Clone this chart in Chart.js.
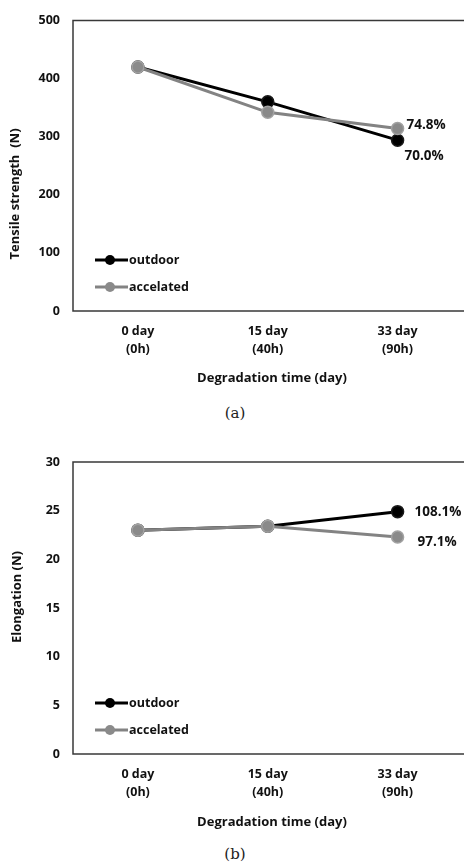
<!DOCTYPE html>
<html><head><meta charset="utf-8">
<script src="https://cdn.jsdelivr.net/npm/chart.js@4/dist/chart.umd.min.js"></script>
<style>
html,body{margin:0;padding:0;background:#fff;overflow:hidden;width:464px;height:864px;position:relative;}
.wrap{position:absolute;left:0;width:470px;}
.cap{position:absolute;font-family:"DejaVu Serif",serif;font-size:15px;color:#222;transform:translateX(-50%);line-height:18px;}
</style></head><body>
<div class="wrap" style="top:0;height:400px"><canvas id="c1" width="470" height="400"></canvas></div>
<div class="cap" style="left:235px;top:404px">(a)</div>
<div class="wrap" style="top:430px;height:410px"><canvas id="c2" width="470" height="410"></canvas></div>
<div class="cap" style="left:235px;top:845px">(b)</div>
<script>
// ---- data ----
const categories = [["0 day","(0h)"],["15 day","(40h)"],["33 day","(90h)"]];
const seriesNames = ["outdoor","accelated"];
const tensileOutdoor = [420, 360, 294];
const tensileAccel = [420, 342, 314];
const tensileTicks = [0, 100, 200, 300, 400, 500];
const tensileRetention = ["70.0%", "74.8%"]; // outdoor, accelated
const elongOutdoor = [23.0, 23.4, 24.9];
const elongAccel = [23.0, 23.4, 22.3];
const elongTicks = [0, 5, 10, 15, 20, 25, 30];
const elongRetention = ["108.1%", "97.1%"]; // outdoor, accelated
const xTitle = "Degradation time (day)";

const FONT = "'Open Sans', 'Noto Sans', sans-serif";

function makeChart(canvasId, opt) {
  const deco = {
    id: 'deco',
    afterDatasetsDraw(chart) {
      const ctx = chart.ctx, a = chart.chartArea;
      ctx.save();
      // frame
      ctx.strokeStyle = '#383838'; ctx.lineWidth = 1.5;
      ctx.beginPath();
      ctx.moveTo(a.right + 4, a.top); ctx.lineTo(a.left, a.top);
      ctx.lineTo(a.left, a.bottom); ctx.lineTo(a.right + 4, a.bottom);
      ctx.stroke();
      // end labels
      ctx.font = "bold 13.5px " + FONT; ctx.fillStyle = '#111';
      ctx.textAlign = 'left'; ctx.textBaseline = 'middle';
      chart.data.datasets.forEach((ds, i) => {
        const meta = chart.getDatasetMeta(i);
        const p = meta.data[meta.data.length - 1];
        const off = opt.labelOffsets[i];
        ctx.fillText(opt.endLabels[i], p.x + off[0], p.y + off[1]);
      });
      // legend
      chart.data.datasets.forEach((ds, i) => {
        const y = a.bottom + opt.legendOffsets[i];
        const x0 = a.left + 22, x1 = a.left + 55, xc = a.left + 37;
        ctx.strokeStyle = ds.borderColor; ctx.lineWidth = 3;
        ctx.beginPath(); ctx.moveTo(x0, y); ctx.lineTo(x1, y); ctx.stroke();
        ctx.fillStyle = ds.pointBackgroundColor;
        ctx.beginPath(); ctx.arc(xc, y, 5, 0, Math.PI * 2); ctx.fill();
        ctx.fillStyle = '#111'; ctx.font = "bold 12.5px " + FONT;
        ctx.textAlign = 'left'; ctx.textBaseline = 'middle';
        ctx.fillText(ds.label, x1 + 1, y);
      });
      // axis titles
      ctx.font = "bold 13px " + FONT; ctx.fillStyle = '#111';
      ctx.textAlign = 'center'; ctx.textBaseline = 'middle';
      ctx.fillText(xTitle, 272, a.bottom + opt.xTitleOffset);
      ctx.translate(opt.yTitlePos[0], opt.yTitlePos[1]);
      ctx.rotate(-Math.PI / 2);
      ctx.fillText(opt.yTitle, 0, 0);
      ctx.restore();
    }
  };
  return new Chart(document.getElementById(canvasId), {
    type: 'line',
    data: {
      labels: categories,
      datasets: [
        { label: seriesNames[0], data: opt.outdoor, order: 2,
          borderColor: '#000', borderWidth: 3,
          pointBackgroundColor: '#000', pointBorderColor: '#1a1a1a',
          pointRadius: 6, pointBorderWidth: 1.5, pointHoverRadius: 6 },
        { label: seriesNames[1], data: opt.accel, order: 1,
          borderColor: '#838383', borderWidth: 3,
          pointBackgroundColor: '#8a8a8a', pointBorderColor: '#a2a2a2',
          pointRadius: 6, pointBorderWidth: 1.5, pointHoverRadius: 6 }
      ]
    },
    options: {
      responsive: false, animation: false,
      layout: { padding: { left: 0, right: 4, top: opt.top, bottom: 0 } },
      plugins: { legend: { display: false }, tooltip: { enabled: false } },
      scales: {
        x: {
          offset: true,
          grid: { display: false, drawTicks: false },
          border: { display: false },
          ticks: { padding: 11, color: '#111', maxRotation: 0,
                   font: { family: FONT, size: 12.5, weight: 'bold', lineHeight: '18px' } },
          afterFit(s) { s.height = opt.xHeight; }
        },
        y: {
          min: opt.ticks[0], max: opt.ticks[opt.ticks.length - 1],
          grid: { display: false, drawTicks: false },
          border: { display: false },
          afterBuildTicks(s) { s.ticks = opt.ticks.map(v => ({ value: v })); },
          ticks: { padding: 13, color: '#111',
                   font: { family: FONT, size: 12.5, weight: 'bold' } },
          afterFit(s) { s.width = 73; }
        }
      }
    },
    plugins: [deco]
  });
}

makeChart('c1', {
  outdoor: tensileOutdoor, accel: tensileAccel, ticks: tensileTicks,
  endLabels: tensileRetention, labelOffsets: [[7, 16], [9, -3]],
  legendOffsets: [-51, -24], top: 16, xHeight: 89, xTitleOffset: 67,
  yTitle: "Tensile strength  (N)", yTitlePos: [15, 194]
});
makeChart('c2', {
  outdoor: elongOutdoor, accel: elongAccel, ticks: elongTicks,
  endLabels: elongRetention, labelOffsets: [[17, 1], [20, 5]],
  legendOffsets: [-51, -24], top: 32, xHeight: 86, xTitleOffset: 68,
  yTitle: "Elongation (N)", yTitlePos: [17, 167]
});
</script>
</body></html>
